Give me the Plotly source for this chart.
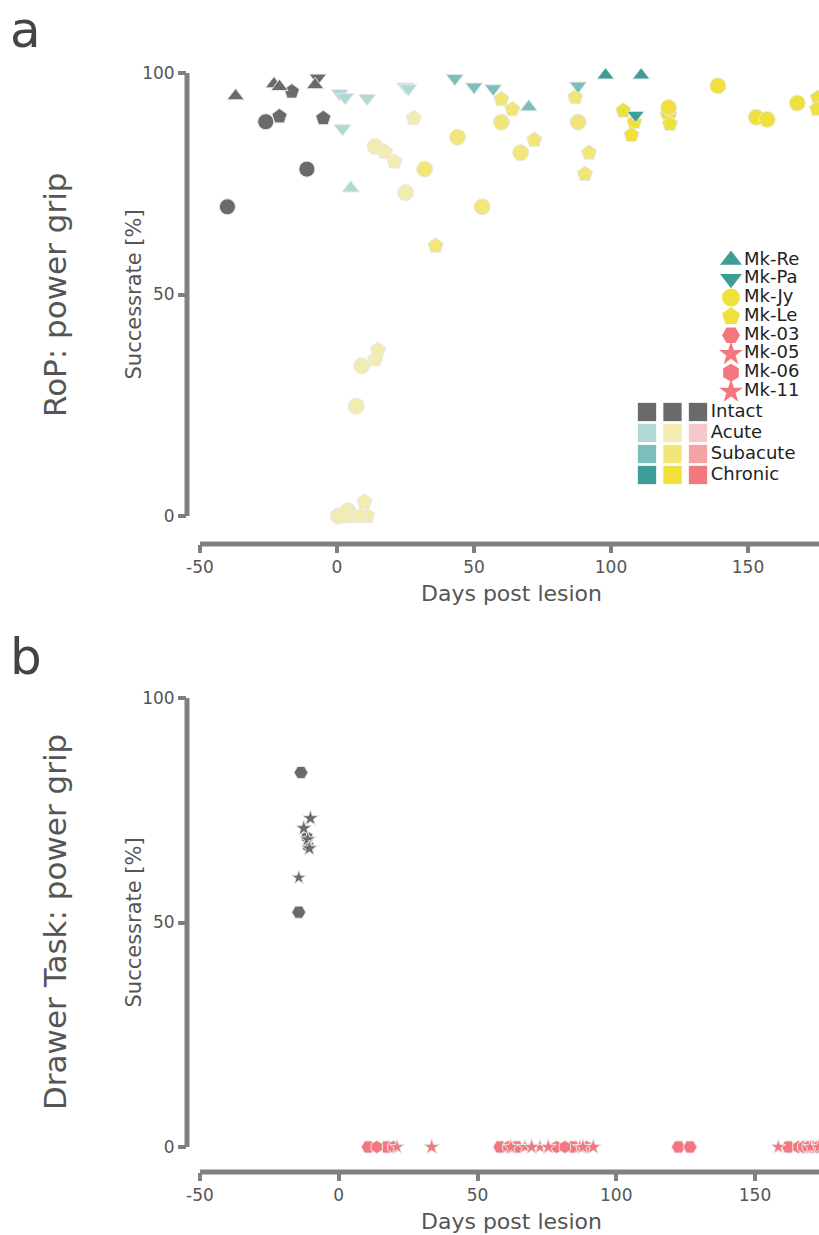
import plotly.graph_objects as go

W, H = 819, 1235

# ---------------- data ----------------
animals = ["Mk-Re", "Mk-Pa", "Mk-Jy", "Mk-Le", "Mk-03", "Mk-05", "Mk-06", "Mk-11"]
symbols = ["triangle-up", "triangle-down", "circle", "pentagon", "hexagon2", "star", "hexagon", "star"]
families = ["teal", "teal", "yellow", "yellow", "pink", "pink", "pink", "pink"]
phases = ["Intact", "Acute", "Subacute", "Chronic"]

phase_colors = {
    "teal":   ["#6a6a6a", "#b0d9d5", "#7abfb9", "#3c9e96"],
    "yellow": ["#6a6a6a", "#f2ecb0", "#f1e679", "#efe03c"],
    "pink":   ["#6a6a6a", "#f6c8ca", "#f4a2a6", "#f4777f"],
}

# Panel a: RoP power grip
re_days = [-37, -23, -21, -8, 5, 70, 98, 111]
re_vals = [94.8, 97.5, 96.9, 97.3, 74.0, 92.3, 99.5, 99.5]
re_phase = ["Intact", "Intact", "Intact", "Intact", "Acute", "Subacute", "Chronic", "Chronic"]

pa_days = [-7, 1, 3, 11, 2, 25, 26, 43, 50, 57, 88, 109]
pa_vals = [98.9, 95.4, 94.5, 94.3, 87.5, 96.9, 96.5, 98.8, 96.9, 96.5, 97.1, 90.5]
pa_phase = ["Intact", "Acute", "Acute", "Acute", "Acute", "Acute", "Acute",
            "Subacute", "Subacute", "Subacute", "Subacute", "Chronic"]

jy_days = [-26, -11, -40, 14, 25, 9, 7, 4, 0.5, 3, 44, 32, 53, 60, 67, 88, 139, 121, 121, 153, 157, 168]
jy_vals = [89.0, 78.3, 69.8, 83.4, 73.0, 33.9, 24.8, 1.2, 0, 0.2, 85.5, 78.3, 69.8, 88.9, 82.0, 88.9,
           97.1, 90.9, 92.2, 90.0, 89.5, 93.2]
jy_phase = ["Intact"] * 3 + ["Acute"] * 7 + ["Subacute"] * 6 + ["Chronic"] * 6

le_days = [-16.5, -21, -5, 28, 17.5, 21, 15, 14, 10, 6, 11, 8.5, 60, 64, 72, 87, 92, 90.5, 36,
           104.5, 108.5, 107.5, 121.5, 175.5, 175.2]
le_vals = [95.8, 90.2, 89.8, 89.8, 82.2, 80.0, 37.5, 35.4, 3.2, 0, 0, 0, 94.1, 91.8, 84.9, 94.5, 82.0, 77.2, 61.0,
           91.5, 88.9, 86.0, 88.5, 94.4, 91.9]
le_phase = ["Intact"] * 3 + ["Acute"] * 9 + ["Subacute"] * 7 + ["Chronic"] * 6

# Panel b: Drawer task power grip
m03_days = [-13.6, -14.4, 10.6, 17.3, 58.1, 64.1, 84.5, 122.4, 126.6, 162.0, 168.0, 171.0]
m03_vals = [83.4, 52.3, 0, 0, 0, 0, 0, 0, 0, 0, 0, 0]
m03_phase = ["Intact", "Intact"] + ["Chronic"] * 10

m05_days = [-14.4, 21.0, 67.1, 72.5, 86.9, 158.4, 170.0]
m05_vals = [60.0, 0, 0, 0, 0, 0, 0]
m05_phase = ["Intact"] + ["Chronic"] * 6

m06_days = [-11.4, -11.0, 13.7, 19.7, 61.1, 78.5, 81.5, 89.4, 165.6, 167.4, 169.0, 172.5, 174.0]
m06_vals = [69.0, 67.0, 0, 0, 0, 0, 0, 0, 0, 0, 0, 0, 0]
m06_phase = ["Intact", "Intact"] + ["Chronic"] * 11

m11_days = [-10.2, -12.6, -11.2, -10.6, 33.5, 62.0, 69.5, 75.5, 91.7, 88.0, 173.0]
m11_vals = [73.2, 71.0, 68.5, 66.5, 0, 0, 0, 0, 0, 0, 0]
m11_phase = ["Intact"] * 4 + ["Chronic"] * 7

x_ticks = [-50, 0, 50, 100, 150]
x_ticktext = ["-50", "0", "50", "100", "150"]
y_ticks = [0, 50, 100]

# ---------------- layout geometry (pixels) ----------------
AX = "#808080"
TXT = "#555555"
FONT = "DejaVu Sans"
EDGE = "rgba(232,232,232,1)"

panels = {
    "a": dict(xl=187, xm50=200, ppd=2.74, y0=516, y100=73, yline=544, ytop=58),
    "b": dict(xl=187, xm50=200, ppd=2.775, y0=1147, y100=698, yline=1172, ytop=683),
}


def geom(p):
    xr = [-50 - (p["xm50"] - p["xl"]) / p["ppd"], -50 + (W - p["xm50"]) / p["ppd"]]
    ppu = (p["y0"] - p["y100"]) / 100.0
    yr = [-(p["yline"] - p["y0"]) / ppu, 100 + (p["y100"] - p["ytop"]) / ppu]
    xd = [p["xl"] / W, 1.0]
    yd = [1 - p["yline"] / H, 1 - p["ytop"] / H]
    return xr, yr, xd, yd


fig = go.Figure()

ssz = {"triangle-up": 15, "triangle-down": 15, "circle": 16, "pentagon": 16,
       "hexagon2": 14, "hexagon": 14, "star": 12}


def add_animal(idx, days, vals, ph, xa, ya, size=None):
    fam = families[idx]
    cols = [phase_colors[fam][phases.index(p)] for p in ph]
    sym = symbols[idx]
    fig.add_trace(go.Scatter(
        x=days, y=vals, mode="markers", xaxis=xa, yaxis=ya, showlegend=False,
        name=animals[idx], cliponaxis=False,
        marker=dict(symbol=sym, size=size or ssz[sym], color=cols, opacity=1,
                    line=dict(color=EDGE, width=1)),
    ))


add_animal(2, jy_days, jy_vals, jy_phase, "x", "y")
add_animal(3, le_days, le_vals, le_phase, "x", "y")
add_animal(1, pa_days, pa_vals, pa_phase, "x", "y")
add_animal(0, re_days, re_vals, re_phase, "x", "y")

add_animal(4, m03_days, m03_vals, m03_phase, "x2", "y2", 14)
add_animal(6, m06_days, m06_vals, m06_phase, "x2", "y2", 13)
add_animal(5, m05_days, m05_vals, m05_phase, "x2", "y2", 11)
add_animal(7, m11_days, m11_vals, m11_phase, "x2", "y2", 12)

shapes = []
annotations = []
for key, xa, ya in [("a", "xaxis", "yaxis"), ("b", "xaxis2", "yaxis2")]:
    p = panels[key]
    xr, yr, xd, yd = geom(p)
    anchor_y = "y" if key == "a" else "y2"
    anchor_x = "x" if key == "a" else "x2"
    fig.layout[xa] = dict(domain=xd, range=xr, anchor=anchor_y, tickvals=x_ticks, ticktext=x_ticktext,
                          ticks="outside", ticklen=8, tickwidth=4, tickcolor=AX, showline=False,
                          showgrid=False, zeroline=False, tickfont=dict(family=FONT, size=17, color=TXT),
                          fixedrange=True)
    fig.layout[ya] = dict(domain=yd, range=yr, anchor=anchor_x, tickvals=y_ticks, ticks="outside",
                          ticklen=8, tickwidth=4, tickcolor=AX, showline=False, showgrid=False,
                          zeroline=False, tickfont=dict(family=FONT, size=17, color=TXT), fixedrange=True)

    def py(v):
        return yd[0] + (v - yr[0]) / (yr[1] - yr[0]) * (yd[1] - yd[0])

    def px(v):
        return xd[0] + (v - xr[0]) / (xr[1] - xr[0]) * (xd[1] - xd[0])

    shapes.append(dict(type="line", xref="paper", yref="paper", x0=xd[0], x1=xd[0],
                       y0=py(0), y1=py(100), line=dict(color=AX, width=5), layer="above"))
    shapes.append(dict(type="line", xref="paper", yref="paper", x0=px(-50), x1=1.0,
                       y0=yd[0], y1=yd[0], line=dict(color=AX, width=5), layer="above"))

    ymid = 1 - ((p["y0"] + p["y100"]) / 2) / H
    annotations.append(dict(text="Successrate [%]", xref="paper", yref="paper", x=133 / W, y=ymid,
                            textangle=-90, showarrow=False, xanchor="center", yanchor="middle",
                            font=dict(family=FONT, size=21, color=TXT)))
    annotations.append(dict(text="Days post lesion", xref="paper", yref="paper", x=511 / W,
                            y=1 - (p["yline"] + 49) / H, showarrow=False, xanchor="center",
                            yanchor="middle", font=dict(family=FONT, size=22, color=TXT)))

annotations.append(dict(text="RoP: power grip", xref="paper", yref="paper", x=55 / W, y=1 - 295 / H,
                        textangle=-90, showarrow=False, xanchor="center", yanchor="middle",
                        font=dict(family=FONT, size=31, color=TXT)))
annotations.append(dict(text="Drawer Task: power grip", xref="paper", yref="paper", x=55 / W,
                        y=1 - 922 / H, textangle=-90, showarrow=False, xanchor="center", yanchor="middle",
                        font=dict(family=FONT, size=31, color=TXT)))
annotations.append(dict(text="a", xref="paper", yref="paper", x=8 / W, y=1 - 30 / H, xanchor="left",
                        yanchor="middle", showarrow=False, font=dict(family=FONT, size=50, color="#444444")))
annotations.append(dict(text="b", xref="paper", yref="paper", x=8 / W, y=1 - 657 / H, xanchor="left",
                        yanchor="middle", showarrow=False, font=dict(family=FONT, size=50, color="#444444")))

# ---------------- custom legend (inset axes) ----------------
leg_sizes = {"triangle-up": 19, "triangle-down": 19, "circle": 18, "pentagon": 19,
             "hexagon2": 18, "hexagon": 18, "star": 18}
rows = list(range(len(animals)))
fig.add_trace(go.Scatter(
    x=[0] * len(animals), y=rows, mode="markers", xaxis="x3", yaxis="y3", showlegend=False,
    hoverinfo="skip", cliponaxis=False,
    marker=dict(symbol=symbols, size=[leg_sizes[s] for s in symbols], opacity=1,
                color=[phase_colors[f][3] for f in families], line=dict(width=0)),
))
fig.add_trace(go.Scatter(
    x=[1] * len(animals), y=rows, mode="text", text=animals, textposition="middle right",
    xaxis="x3", yaxis="y3", showlegend=False, hoverinfo="skip", cliponaxis=False,
    textfont=dict(family=FONT, size=18, color="#222222"),
))
lp = 18.8
fig.layout["xaxis3"] = dict(domain=[718 / W, 757 / W], range=[-1, 2], visible=False, fixedrange=True,
                            anchor="y3")
fig.layout["yaxis3"] = dict(domain=[1 - (260 + 7.5 * lp) / H, 1 - (260 - 0.5 * lp) / H], range=[7.5, -0.5],
                            visible=False, fixedrange=True, anchor="x3")

fam_cols = ["teal", "yellow", "pink"]
gx, gy, gc = [], [], []
for ci, f in enumerate(fam_cols):
    for ri, ph in enumerate(phases):
        gx.append(ci)
        gy.append(ri)
        gc.append(phase_colors[f][ri])
fig.add_trace(go.Scatter(
    x=gx, y=gy, mode="markers", xaxis="x4", yaxis="y4", showlegend=False, hoverinfo="skip",
    cliponaxis=False, marker=dict(symbol="square", size=19, color=gc, opacity=1,
                                  line=dict(color="rgba(255,255,255,0.7)", width=1)),
))
fig.add_trace(go.Scatter(
    x=[2.5] * len(phases), y=list(range(len(phases))), mode="text", text=phases,
    textposition="middle right", xaxis="x4", yaxis="y4", showlegend=False, hoverinfo="skip",
    cliponaxis=False, textfont=dict(family=FONT, size=18, color="#222222"),
))
gp_x, gp_y = 25.5, 21.0
fig.layout["xaxis4"] = dict(domain=[(647 - 0.5 * gp_x) / W, (647 + 2.5 * gp_x) / W], range=[-0.5, 2.5],
                            visible=False, fixedrange=True, anchor="y4")
fig.layout["yaxis4"] = dict(domain=[1 - (412 + 3.5 * gp_y) / H, 1 - (412 - 0.5 * gp_y) / H],
                            range=[3.5, -0.5], visible=False, fixedrange=True, anchor="x4")

fig.update_layout(width=W, height=H, margin=dict(l=0, r=0, t=0, b=0), plot_bgcolor="white",
                  paper_bgcolor="white", shapes=shapes, annotations=annotations,
                  font=dict(family=FONT, color=TXT), showlegend=False)

fig.write_html("out.html", config={"displayModeBar": False})
